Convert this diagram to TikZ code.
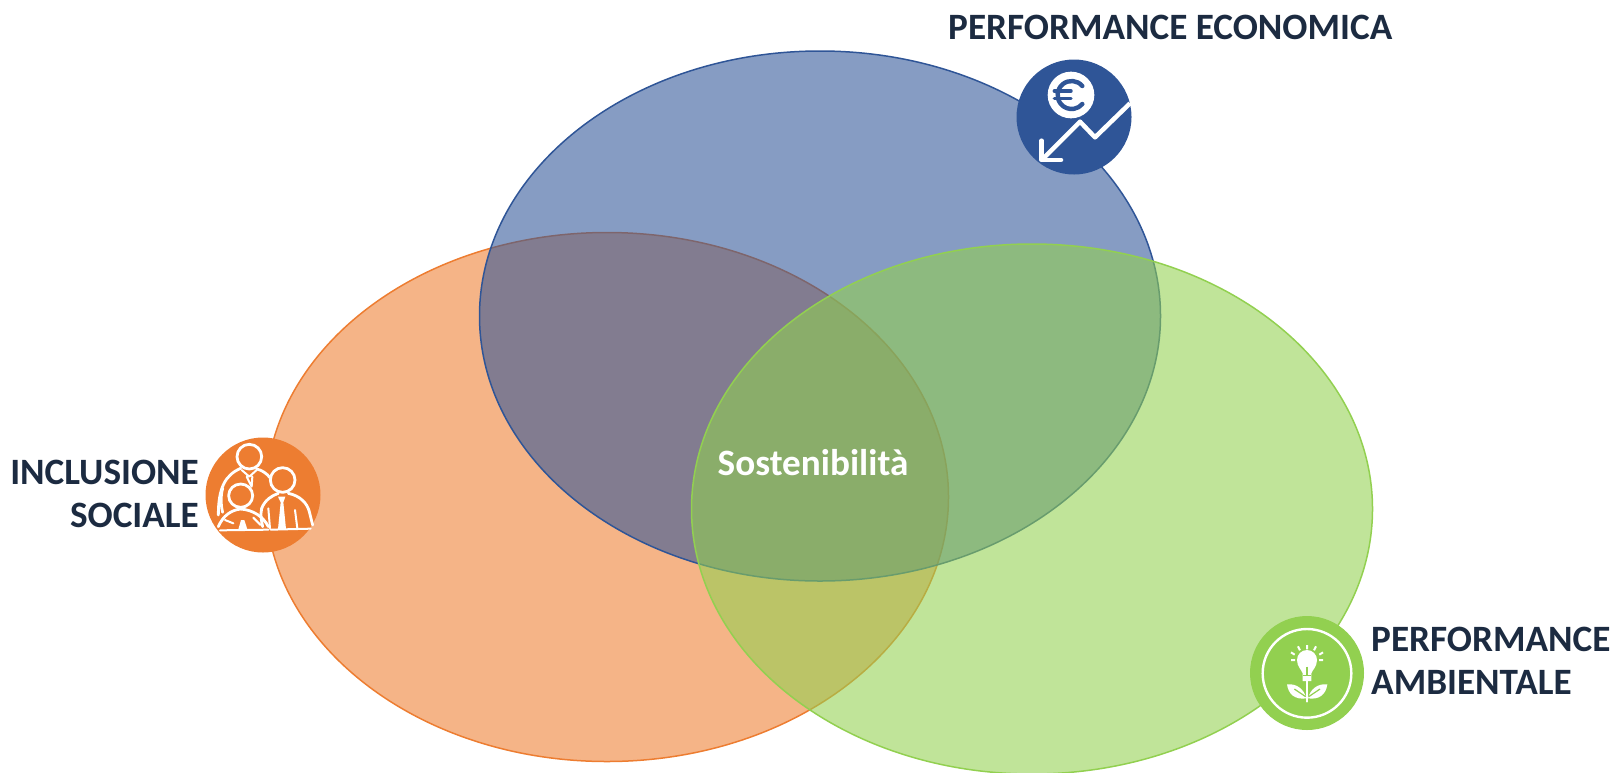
\documentclass[tikz,border=0pt]{standalone}
\usepackage{fontspec}
\setmainfont{Carlito}
\usetikzlibrary{shapes.geometric}
\definecolor{navy}{HTML}{1C2B41}
\definecolor{cblue}{HTML}{2F5597}
\definecolor{corange}{HTML}{ED7D31}
\definecolor{cgreen}{HTML}{92D050}
\tikzset{
  set/.style={ellipse,inner sep=0pt,line width=1.5pt,fill opacity=.58,minimum width=#1},
  lab/.style={text=navy,font=\fontsize{37.2}{43}\selectfont\bfseries,inner sep=0pt},
  wl/.style={draw=white,line width=#1,line cap=round,line join=round},
  wl/.default=2.8pt
}
\begin{document}
\begin{tikzpicture}[x=1pt,y=-1pt]
\useasboundingbox (0,0) rectangle (1613,772);
% sets
\node[set=683pt,minimum height=529pt,draw=corange,fill=corange] (social) at (607,497) {};
\node[set=681pt,minimum height=530pt,draw=cblue,fill=cblue] (econ) at (820,316) {};
\node[set=681pt,minimum height=530pt,draw=cgreen,fill=cgreen] (env) at (1032,509) {};
% labels
\node[text=white,font=\fontsize{37.2}{44}\selectfont\bfseries,inner sep=0pt] (core) at (813,463) {Sostenibilità};
\node[lab,anchor=west] (t1) at (948,27) {PERFORMANCE ECONOMICA};
\node[lab,anchor=east,align=right] (t2) at (199,493.5) {INCLUSIONE\\SOCIALE};
\node[lab,anchor=west,align=left] (t3) at (1371,660.5) {PERFORMANCE\\AMBIENTALE};
% economic icon
\node[circle,fill=cblue,minimum size=115pt,inner sep=0pt] (ic1) at (1074,117) {};
\begin{scope}[shift={(990,40)},scale=1/3]
  \fill[white] (243,165) circle (70);
  \draw[cblue,line width=4.4pt,line cap=round] (277,138) arc (-40:-320:42);
  \draw[cblue,line width=3.4pt,line cap=round] (193,153) -- (243,153) (193,176) -- (243,176);
  \draw[wl=4.5pt,line cap=butt] (420,190) -- (315,292) -- (270,245) -- (160,355);
  \draw[wl=4.5pt] (155,302) -- (155,360) -- (213,360);
\end{scope}
% social icon
\node[circle,fill=corange,minimum size=115pt,inner sep=0pt] (ic2) at (263,495) {};
\begin{scope}[shift={(190,425)},scale=1/3]
  \draw[wl] (178,95) ellipse (37 and 37);
  \draw[wl] (152,130) .. controls (105,150) and (85,190) .. (85,270);
  \draw[wl] (98,190) .. controls (92,210) and (92,240) .. (98,262);
  \draw[wl] (200,132) .. controls (215,135) and (230,145) .. (240,158);
  \draw[wl=2pt] (155,135) -- (178,155) -- (200,135) (170,155) -- (185,185) -- (187,155);
  \draw[wl] (152,212) ellipse (36 and 35);
  \draw[wl] (85,305) .. controls (100,270) and (125,255) .. (152,252) .. controls (190,255) and (220,275) .. (235,305);
  \draw[wl=2pt] (105,285) -- (130,295) (190,278) -- (212,300);
  \fill[white] (145,313) -- (153,285) -- (163,285) -- (172,313) -- cycle;
  \draw[wl] (278,165) ellipse (37 and 37);
  \draw[wl] (215,250) .. controls (225,225) and (245,212) .. (265,205) (295,205) .. controls (330,212) and (352,235) .. (358,260) -- (368,300);
  \draw[wl] (215,250) .. controls (210,270) and (215,290) .. (218,305);
  \draw[wl=2pt] (235,250) -- (240,310) (315,255) -- (322,310);
  \fill[white] (264,215) -- (286,215) -- (280,232) -- (288,312) -- (264,312) -- (272,232) -- cycle;
  \draw[wl=2pt] (90,316) -- (235,314) (242,314) -- (362,311);
\end{scope}
% environment icon
\node[circle,fill=cgreen,minimum size=114pt,inner sep=0pt] (ic3) at (1307,673) {};
\begin{scope}[shift={(1235,605)},scale=1/3]
  \draw[white,line width=2.4pt] (216,205) circle (133);
  \fill[white] (203,228) -- (203,205) .. controls (200,195) and (186,185) .. (186,165) arc (-180:0:30) .. controls (246,185) and (232,195) .. (229,205) -- (229,228) -- cycle;
  \draw[cgreen,line width=1.2pt] (205,212) -- (227,212);
  \draw[cgreen,line width=1.2pt] (216,185) -- (216,212);
  \draw[wl=2pt] (216,228) -- (216,290);
  \draw[wl=2pt,line cap=butt] (216,120) -- (216,133) (189,124) -- (195,136) (243,124) -- (237,136) (168,142) -- (179,149) (264,142) -- (253,149) (168,165) -- (180,165) (264,165) -- (252,165);
  \fill[white] (156,238) .. controls (185,235) and (207,252) .. (214,280) .. controls (180,285) and (160,268) .. (156,238) -- cycle;
  \fill[white] (277,238) .. controls (248,235) and (226,252) .. (219,280) .. controls (253,285) and (273,268) .. (277,238) -- cycle;
  \draw[cgreen,line width=1.2pt] (178,252) -- (212,275) (255,252) -- (221,275);
\end{scope}
\end{tikzpicture}
\end{document}
